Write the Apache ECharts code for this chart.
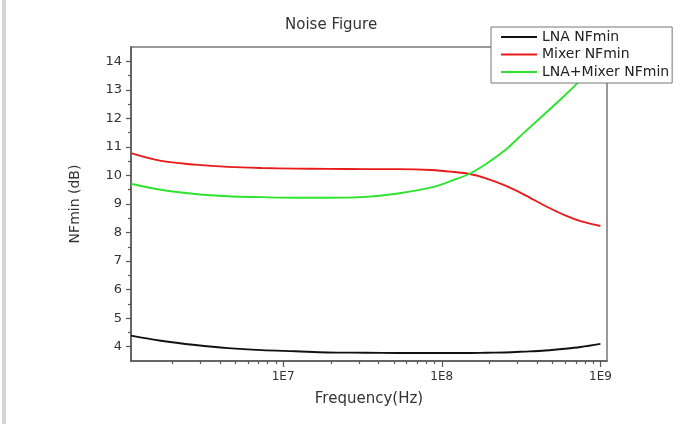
<!DOCTYPE html>
<html>
<head>
<meta charset="utf-8">
<script src="https://cdn.jsdelivr.net/npm/echarts@6/dist/echarts.min.js"></script>
<style>
  html, body { margin: 0; padding: 0; background: #fff; }
  #main { width: 690px; height: 424px; }
</style>
</head>
<body>
<div id="main"></div>
<script>
var freqs = [1.1e6, 1.7e6, 2.8e6, 4.5e6, 7.3e6, 1.2e7, 1.9e7, 3.3e7, 5.3e7, 8.6e7,
  1.2e8, 1.5e8, 1.9e8, 2.5e8, 3.3e8, 4.5e8, 6e8, 7.5e8, 1e9]
var lnaNF = [4.39, 4.21, 4.06, 3.95, 3.88, 3.84, 3.80, 3.79, 3.78, 3.78,
  3.78, 3.78, 3.79, 3.80, 3.83, 3.87, 3.93, 3.99, 4.10]
var mixerNF = [10.78, 10.51, 10.38, 10.30, 10.26, 10.24, 10.23, 10.22, 10.22, 10.19,
  10.12, 10.05, 9.90, 9.65, 9.33, 8.93, 8.60, 8.40, 8.23]
var totalNF = [9.71, 9.50, 9.35, 9.27, 9.24, 9.22, 9.22, 9.25, 9.37, 9.58,
  9.85, 10.06, 10.40, 10.88, 11.50, 12.18, 12.82, 13.35, 14.1]
var seriesNames = ['LNA NFmin', 'Mixer NFmin', 'LNA+Mixer NFmin']
var seriesColors = ['#111111', '#e81b1b', '#2ee32e']

var yTicks = [4, 5, 6, 7, 8, 9, 10, 11, 12, 13, 14]
var yMinorTicks = [4.5, 5.5, 6.5, 7.5, 8.5, 9.5, 10.5, 11.5, 12.5, 13.5]
var xTicks = [1e7, 1e8, 1e9]
var xMinorTicks = [2e6, 3e6, 4e6, 5e6, 6e6, 7e6, 8e6, 9e6,
  2e7, 3e7, 4e7, 5e7, 6e7, 7e7, 8e7, 9e7,
  2e8, 3e8, 4e8, 5e8, 6e8, 7e8, 8e8, 9e8]

var font = 'DejaVu Sans'
var axisColor = '#555'

function pairs(ys) {
  var out = []
  for (var i = 0; i < freqs.length; i++) out.push([freqs[i], ys[i]])
  return out
}

var chart = echarts.init(document.getElementById('main'))
var allData = [lnaNF, mixerNF, totalNF]
var series = []
for (var i = 0; i < allData.length; i++) {
  series.push({
    name: seriesNames[i],
    type: 'line',
    data: pairs(allData[i]),
    smooth: 0.35,
    symbol: 'none',
    lineStyle: { color: seriesColors[i], width: 1.9 },
    itemStyle: { color: seriesColors[i] }
  })
}

var option = {
  animation: false,
  backgroundColor: '#fff',
  textStyle: { fontFamily: font },
  title: {
    text: 'Noise Figure',
    left: 285,
    top: 18,
    padding: 0,
    textStyle: { fontFamily: font, fontSize: 15, fontWeight: 'normal', color: '#333' }
  },
  legend: {
    orient: 'vertical',
    left: 491,
    top: 27,
    padding: [3, 3, 4, 10],
    itemGap: 3.5,
    itemWidth: 36,
    itemHeight: 2,
    icon: 'rect',
    backgroundColor: '#fff',
    borderColor: '#777',
    borderWidth: 1,
    data: seriesNames,
    textStyle: { fontFamily: font, fontSize: 14, lineHeight: 14, color: '#222' }
  },
  graphic: [{
    type: 'rect',
    shape: { x: 2, y: 0, width: 4, height: 424 },
    style: { fill: '#d6d6d6' }
  }],
  grid: {
    left: 131, right: 83, top: 47, bottom: 63,
    show: true,
    borderColor: '#777',
    borderWidth: 1.5,
    backgroundColor: 'transparent'
  },
  xAxis: [{
    type: 'log',
    min: 1.1e6,
    max: 1.1e9,
    name: 'Frequency(Hz)',
    nameLocation: 'middle',
    nameGap: 31,
    nameTextStyle: { fontFamily: font, fontSize: 15, color: '#333' },
    axisLine: { show: true, lineStyle: { color: axisColor, width: 1.5 } },
    axisTick: { show: true, length: 6, customValues: xTicks, lineStyle: { color: axisColor, width: 1.2 } },
    axisLabel: {
      customValues: xTicks,
      margin: 10,
      fontFamily: font,
      fontSize: 12,
      color: '#333',
      formatter: function (v) { return '1E' + Math.round(Math.log10(v)) }
    },
    splitLine: { show: false }
  }, {
    type: 'log',
    min: 1.1e6,
    max: 1.1e9,
    position: 'bottom',
    axisLine: { show: false },
    axisTick: { show: true, length: 3, customValues: xMinorTicks, lineStyle: { color: axisColor, width: 1.2 } },
    axisLabel: { show: false },
    splitLine: { show: false }
  }],
  yAxis: [{
    type: 'value',
    min: 3.5,
    max: 14.5,
    name: 'NFmin (dB)',
    nameLocation: 'middle',
    nameGap: 49,
    nameTextStyle: { fontFamily: font, fontSize: 14, color: '#333' },
    axisLine: { show: true, lineStyle: { color: axisColor, width: 1.5 } },
    axisTick: { show: true, length: 5, customValues: yTicks, lineStyle: { color: axisColor, width: 1.2 } },
    axisLabel: { customValues: yTicks, margin: 9, fontFamily: font, fontSize: 13, color: '#333' },
    splitLine: { show: false }
  }, {
    type: 'value',
    min: 3.5,
    max: 14.5,
    position: 'left',
    axisLine: { show: false },
    axisTick: { show: true, length: 3, customValues: yMinorTicks, lineStyle: { color: axisColor, width: 1.2 } },
    axisLabel: { show: false },
    splitLine: { show: false }
  }],
  series: series
}
chart.setOption(option)
</script>
</body>
</html>
